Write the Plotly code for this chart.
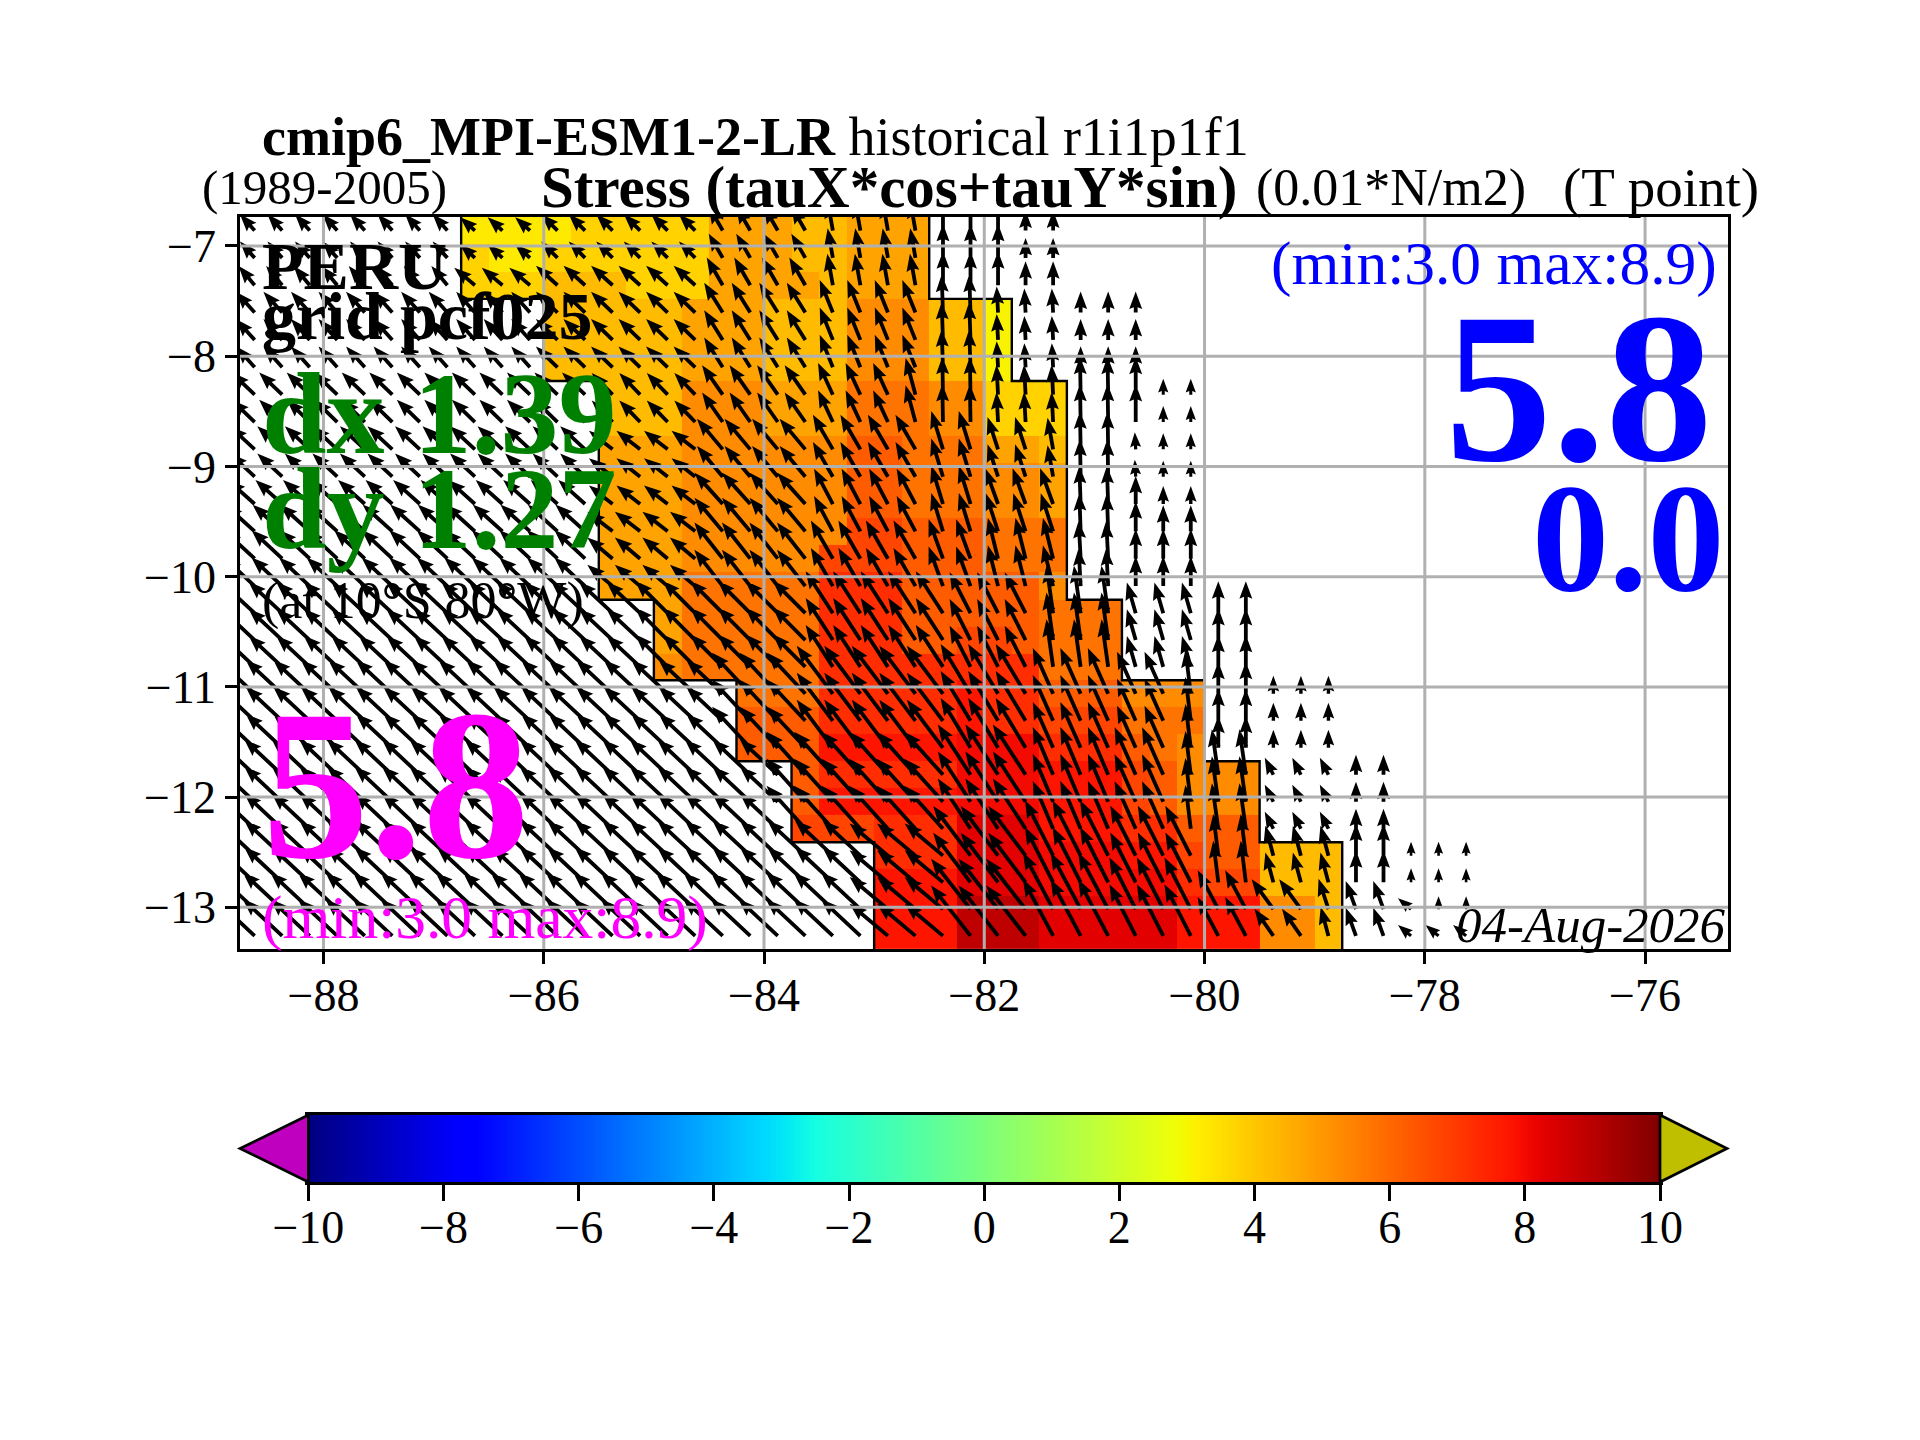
import math
import numpy as np
import plotly.graph_objects as go

# ---------- grid (cell edges, degrees) ----------
LON_FIRST_EDGE = -88.75
LON_STEP = 0.25
N_COLS = 54
LAT_EDGES = [-6.736, -6.984, -7.232, -7.48, -7.728, -7.976, -8.225, -8.473, -8.721, -8.969,
             -9.217, -9.465, -9.713, -9.961, -10.21, -10.453, -10.697, -10.94, -11.185,
             -11.43, -11.675, -11.92, -12.165, -12.41, -12.652, -12.895, -13.138, -13.38]

# first stressed column of each row band (ocean mask); every band holds 17 cells
ROW_FIRST_COL = [8]*3 + [11]*3 + [13]*8 + [15]*3 + [18]*3 + [20]*3 + [23]*4

# ---------- stress values, run lengths (cells, value), row by row ----------
STRESS_R00 = [(4,3.25),(5,3.75),(3,4.75),(2,4.25),(3,4.75)]
STRESS_R01 = [(1,3.75),(2,3.25),(6,3.75),(3,4.75),(2,4.25),(3,4.75)]
STRESS_R02 = [(3,3.75),(3,4.25),(3,3.75),(4,4.75),(1,4.25),(3,4.75)]
STRESS_R03 = [(5,4.25),(1,4.75),(2,4.75),(3,4.25),(3,5.25),(2,4.25),(1,3.05)]
STRESS_R06 = [(3,4.25),(3,5.25),(3,4.75),(3,5.75),(2,5.25),(3,3.75)]
STRESS_R08 = [(3,4.75),(3,5.25),(3,5.25),(2,6.25),(3,5.75),(2,4.75),(1,4.25)]
STRESS_R09 = [(3,4.75),(3,5.25),(3,5.25),(2,6.25),(3,5.75),(2,5.25),(1,4.75)]
STRESS_R11 = [(3,4.75),(5,5.25),(1,5.25),(2,6.75),(3,6.25),(3,5.75)]
STRESS_R12 = [(3,4.75),(5,5.25),(3,6.75),(3,6.25),(3,5.75)]
STRESS_R13 = [(3,4.75),(5,5.75),(3,7.25),(5,6.25),(1,5.25)]
STRESS_R14 = [(1,4.75),(5,5.75),(3,7.25),(5,6.25),(3,5.75)]
STRESS_R15 = [(1,4.75),(5,5.75),(3,7.25),(2,6.25),(2,6.75),(1,6.25),(3,5.75)]
STRESS_R16 = [(1,5.25),(5,5.75),(8,7.25),(3,5.75)]
STRESS_R17 = [(3,5.75),(5,7.25),(1,7.75),(2,7.25),(3,6.25),(3,5.25)]
STRESS_R18 = [(3,6.25),(5,7.25),(1,7.75),(2,7.25),(3,6.75),(3,5.75)]
STRESS_R19 = [(3,6.25),(5,7.75),(3,8.0),(3,7.25),(1,6.25),(1,5.75),(1,5.25)]
STRESS_R20 = [(1,6.25),(5,7.25),(3,8.0),(3,7.75),(1,6.75),(1,6.25),(3,5.25)]
STRESS_R21 = [(1,6.25),(5,7.75),(3,8.0),(3,7.75),(1,6.75),(1,6.25),(3,5.25)]
STRESS_R22 = [(3,6.75),(3,7.25),(3,8.3),(3,7.75),(2,7.25),(3,6.25)]
STRESS_R23 = [(3,7.25),(3,8.3),(3,8.0),(2,7.75),(1,6.75),(2,6.25),(3,4.25)]
STRESS_R24 = [(3,7.75),(3,8.3),(3,8.0),(2,8.0),(1,7.25),(2,6.75),(3,4.25)]
STRESS_R25 = [(3,7.75),(3,8.9),(5,8.3),(3,7.75),(2,5.25),(1,4.25)]
STRESS_ROWS = [STRESS_R00, STRESS_R01, STRESS_R02, STRESS_R03, STRESS_R03, STRESS_R03,
               STRESS_R06, STRESS_R06, STRESS_R08, STRESS_R09, STRESS_R09, STRESS_R11,
               STRESS_R12, STRESS_R13, STRESS_R14, STRESS_R15, STRESS_R16, STRESS_R17,
               STRESS_R18, STRESS_R19, STRESS_R20, STRESS_R21, STRESS_R22, STRESS_R23,
               STRESS_R24, STRESS_R25, STRESS_R25]

# ---------- wind stress arrows, run lengths (cells, degrees west of north, magnitude) ----------
WIND_R00 = [(8,42,22),(3,48,20),(6,45,23),(4,30,28),(4,10,30),(3,0,34),(2,0,20)]
WIND_R02 = [(8,40,25),(3,50,27),(6,48,29),(4,30,32),(4,10,32),(3,0,34),(2,0,24)]
WIND_R03 = [(11,42,28),(6,46,30),(4,32,35),(4,22,35),(2,2,38),(1,3,26),(2,3,24),(3,0,21)]
WIND_R06 = [(13,46,32),(4,44,30),(4,35,36),(3,25,35),(1,15,38),(2,1,38),(3,3,30),(2,1,38),(1,0,38),(2,0,16)]
WIND_R08 = [(13,47,34),(4,52,30),(4,40,40),(4,30,40),(2,17,40),(2,18,34),(1,10,32),(2,1,38),(1,3,17),(2,0,16)]
WIND_R10 = [(13,48,36),(4,52,30),(4,42,42),(4,28,40),(2,17,40),(3,20,38),(2,2,38),(1,0,28),(2,0,18)]
WIND_R11 = [(13,48,40),(4,52,32),(4,40,44),(4,28,40),(2,17,40),(3,18,40),(2,2,38),(1,0,30),(2,0,26)]
WIND_R12 = [(13,47,42),(4,50,33),(4,38,46),(4,30,44),(2,20,42),(3,14,42),(2,3,38),(1,0,30),(2,0,30)]
WIND_R14 = [(15,47,46),(6,45,46),(5,33,50),(3,27,46),(3,8,48),(3,16,32),(2,0,32)]
WIND_R17 = [(18,47,50),(3,43,56),(5,37,60),(3,31,58),(3,24,50),(2,24,46),(1,7,44),(2,0,32),(3,0,18)]
WIND_R20 = [(20,47,52),(6,42,58),(3,33,60),(3,23,52),(2,24,52),(1,7,44),(2,8,46),(3,27,19),(2,0,20)]
WIND_R23 = [(23,47,52),(3,50,50),(3,37,62),(3,27,62),(3,27,56),(2,7,42),(3,15,31),(2,0,32),(3,0,14)]
WIND_R25 = [(23,47,54),(3,50,50),(3,38,64),(3,28,64),(3,27,58),(2,28,44),(2,36,37),(1,18,32),(2,20,30),(1,50,17),(2,0,13)]
WIND_R26 = [(23,47,54),(3,50,50),(3,38,64),(3,28,64),(3,27,58),(2,28,44),(2,35,33),(1,15,30),(2,20,30),(3,50,17)]
WIND_ROWS = [WIND_R00, WIND_R00, WIND_R02, WIND_R03, WIND_R03, WIND_R03, WIND_R06, WIND_R06,
             WIND_R08, WIND_R08, WIND_R10, WIND_R11, WIND_R12, WIND_R12, WIND_R14, WIND_R14,
             WIND_R14, WIND_R17, WIND_R17, WIND_R17, WIND_R20, WIND_R20, WIND_R20, WIND_R23,
             WIND_R23, WIND_R25, WIND_R26]

X_TICKS = [-88, -86, -84, -82, -80, -78, -76]
Y_TICKS = [-7, -8, -9, -10, -11, -12, -13]
CB_TICKS = [-10, -8, -6, -4, -2, 0, 2, 4, 6, 8, 10]
CB_LEVELS = [-10 + 0.05*i for i in range(401)]

# ---------- layout constants (pixels on the 1920x1440 page) ----------
W, H = 1920, 1440
AX_L, AX_R, AX_T, AX_B = 240, 1728, 217, 949
CB_L, CB_R, CB_T, CB_B = 308.4, 1660, 1115, 1182
PX_PER_DEG = 110.15
X_RANGE = [-88.758, -75.247]
Y_RANGE = [-13.378, -6.737]
GRID = "#b0b0b0"
FONT = "Liberation Serif"
SHAFT = 3.8


def fx(p):
    return p / W


def fy(p):
    return 1 - p / H


def jet_channel(t, pts):
    return float(np.interp(t, [p[0] for p in pts], [p[1] for p in pts]))


JET_R = [(0, 0), (0.35, 0), (0.66, 1), (0.89, 1), (1, 0.5)]
JET_G = [(0, 0), (0.125, 0), (0.375, 1), (0.64, 1), (0.91, 0), (1, 0)]
JET_B = [(0, 0.5), (0.11, 1), (0.34, 1), (0.65, 0), (1, 0)]
JET = []
for i in range(129):
    t = i / 128
    r, g, b = (round(255 * jet_channel(t, c)) for c in (JET_R, JET_G, JET_B))
    JET.append([t, f"rgb({r},{g},{b})"])


def expand(runs):
    out = []
    for run in runs:
        out += [run[1:]] * run[0]
    return out


lon_edges = [LON_FIRST_EDGE + LON_STEP * i for i in range(N_COLS + 1)]
lon_centers = [0.5 * (a + b) for a, b in zip(lon_edges, lon_edges[1:])]
lat_centers = [0.5 * (a + b) for a, b in zip(LAT_EDGES, LAT_EDGES[1:])]

# stress field
z = [[None] * N_COLS for _ in STRESS_ROWS]
for r, runs in enumerate(STRESS_ROWS):
    for k, (v,) in enumerate(expand(runs)):
        z[r][ROW_FIRST_COL[r] + k] = v

# arrows as polygons in data space (tail on the cell centre)
ax_pts, ay_pts = [], []
for r, runs in enumerate(WIND_ROWS):
    for c, (ang, mag) in enumerate(expand(runs)):
        th = math.radians(ang)
        ux, uy = -math.sin(th), math.cos(th)     # along
        nx, ny = -uy, ux                          # across
        hl, hax, hw, sw = 4.6 * SHAFT, 4.1 * SHAFT, 1.7 * SHAFT, 0.5 * SHAFT
        if mag < hl * 1.15:
            s = mag / (hl * 1.15)
            hl, hax, hw, sw = hl * s, hax * s, hw * s, sw * s
        outline = [(0, sw), (mag - hax, sw), (mag - hl, hw), (mag, 0),
                   (mag - hl, -hw), (mag - hax, -sw), (0, -sw), (0, sw)]
        for a, b in outline:
            ax_pts.append(lon_centers[c] + (a * ux + b * nx) / PX_PER_DEG)
            ay_pts.append(lat_centers[r] + (a * uy + b * ny) / PX_PER_DEG)
        ax_pts.append(None)
        ay_pts.append(None)

# ocean mask outline, from the same mask
left_x, left_y, right_x, right_y = [], [], [], []
for r, first in enumerate(ROW_FIRST_COL):
    for la in (LAT_EDGES[r], LAT_EDGES[r + 1]):
        left_x.append(lon_edges[first])
        left_y.append(la)
        right_x.append(lon_edges[first + 17])
        right_y.append(la)

fig = go.Figure()
fig.add_trace(go.Heatmap(x=lon_edges, y=LAT_EDGES, z=z, zmin=-10, zmax=10, colorscale=JET,
                         showscale=False, hoverinfo="skip", xaxis="x", yaxis="y"))
for xs, ys in ((left_x, left_y), (right_x, right_y)):
    fig.add_trace(go.Scatter(x=xs, y=ys, mode="lines", line=dict(color="black", width=2.4),
                             hoverinfo="skip", showlegend=False))
fig.add_trace(go.Scatter(x=ax_pts, y=ay_pts, mode="lines", fill="toself", fillcolor="black",
                         line=dict(color="black", width=0), hoverinfo="skip", showlegend=False))
fig.add_trace(go.Heatmap(x=CB_LEVELS, y=[0, 1], z=[CB_LEVELS, CB_LEVELS], zmin=-10, zmax=10,
                         colorscale=JET, showscale=False, hoverinfo="skip", xaxis="x2", yaxis="y2"))

shapes = []
for v in X_TICKS:
    shapes.append(dict(type="line", xref="x", yref="y domain", x0=v, x1=v, y0=0, y1=1,
                       line=dict(color=GRID, width=3), layer="above"))
for v in Y_TICKS:
    shapes.append(dict(type="line", xref="x domain", yref="y", x0=0, x1=1, y0=v, y1=v,
                       line=dict(color=GRID, width=3), layer="above"))
# colour bar extension triangles
cy = 0.5 * (CB_T + CB_B)
shapes.append(dict(type="path", xref="paper", yref="paper",
                   path=f"M {fx(CB_L)} {fy(CB_T)} L {fx(240)} {fy(cy)} L {fx(CB_L)} {fy(CB_B)} Z",
                   fillcolor="#bf00bf", line=dict(color="black", width=2.7), layer="above"))
shapes.append(dict(type="path", xref="paper", yref="paper",
                   path=f"M {fx(CB_R)} {fy(CB_T)} L {fx(1727)} {fy(cy)} L {fx(CB_R)} {fy(CB_B)} Z",
                   fillcolor="#bfbf00", line=dict(color="black", width=2.7), layer="above"))


def minus(v):
    return f"\u2212{abs(v)}" if v < 0 else str(v)


def label(text, x, y, size, color="black", anchor="left"):
    return dict(text=text, x=fx(x), y=fy(y), xref="paper", yref="paper", xanchor=anchor,
                yanchor="middle", showarrow=False, align=anchor, borderpad=0,
                font=dict(family=FONT, size=size, color=color))


annotations = [
    label("<b>cmip6_MPI-ESM1-2-LR</b> historical r1i1p1f1", 261, 137, 54),
    label("(1989-2005)", 201, 188, 49),
    label("<b>Stress (tauX*cos+tauY*sin)</b>", 540, 187, 59),
    label("(0.01*N/m2)", 1255, 188, 52),
    label("(T point)", 1562, 188, 55),
    label("<b>PERU</b>", 261, 266, 68),
    label("<b>grid pcf025</b>", 261, 316, 68),
    label("<b>dx 1.39</b>", 261, 414, 116, "green"),
    label("<b>dy 1.27</b>", 261, 509, 116, "green"),
    label("(at 10\u00b0S 80\u00b0W)", 261, 601, 52),
    label("<b>5.8</b>", 261, 785, 214, "#ff00ff"),
    label("(min:3.0 max:8.9)", 261, 918, 61.5, "#ff00ff"),
    label("(min:3.0 max:8.9)", 1718, 263, 61.5, "blue", "right"),
    label("<b>5.8</b>", 1714, 387, 214, "blue", "right"),
    label("<b>0.0</b>", 1726, 538, 154, "blue", "right"),
    label("<i>04-Aug-2026</i>", 1727, 925, 51, "black", "right"),
]

tick_font = dict(family=FONT, size=46, color="black")
axis_common = dict(showline=True, linecolor="black", linewidth=2.7, mirror=True, ticks="outside",
                   tickcolor="black", tickwidth=2.7, ticklen=12, showgrid=False, zeroline=False,
                   tickfont=tick_font, layer="above traces", automargin=False)

fig.update_layout(
    width=W, height=H, margin=dict(l=0, r=0, t=0, b=0, autoexpand=False), paper_bgcolor="white",
    plot_bgcolor="white", showlegend=False, shapes=shapes, annotations=annotations,
    xaxis=dict(domain=[fx(AX_L), fx(AX_R)], range=X_RANGE, tickmode="array", tickvals=X_TICKS,
               ticktext=[minus(v) for v in X_TICKS], anchor="y", ticklabelstandoff=-8, **axis_common),
    yaxis=dict(domain=[fy(AX_B), fy(AX_T)], range=Y_RANGE, tickmode="array", tickvals=Y_TICKS,
               ticktext=[minus(v) for v in Y_TICKS], anchor="x", **axis_common),
    xaxis2=dict(domain=[fx(CB_L), fx(CB_R)], range=[-10, 10], tickmode="array", tickvals=CB_TICKS,
                ticktext=[minus(v) for v in CB_TICKS], anchor="y2", ticklabelstandoff=-13,
                **{**axis_common, "ticklen": 16}),
    yaxis2=dict(domain=[fy(CB_B), fy(CB_T)], range=[0, 1], showticklabels=False, ticks="",
                showline=True, linecolor="black", linewidth=2.7, mirror=True, showgrid=False,
                zeroline=False, anchor="x2", automargin=False),
)

fig.write_html("out.html", config=dict(displayModeBar=False),
               post_script="document.body.style.margin='0';document.body.style.overflow='hidden';")
